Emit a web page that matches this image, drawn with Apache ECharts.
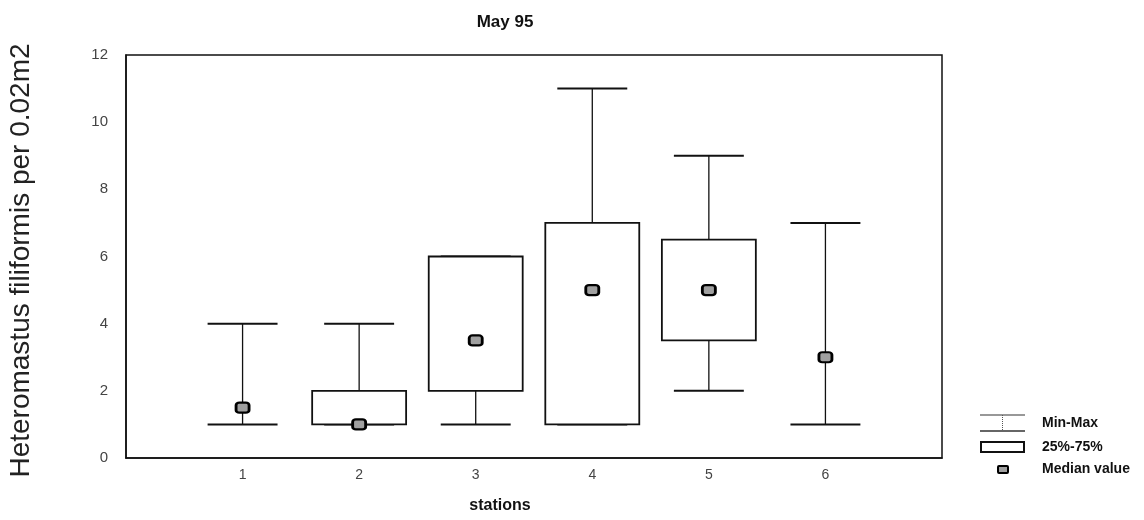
<!DOCTYPE html>
<html>
<head>
<meta charset="utf-8">
<script src="https://cdn.jsdelivr.net/npm/echarts@6/dist/echarts.min.js"></script>
<style>
html,body{margin:0;padding:0;background:#fff;}
#chart{width:1144px;height:520px;}
</style>
</head>
<body>
<div id="chart"></div>
<script>
const stations = [1, 2, 3, 4, 5, 6];
const minVals = [1, 1, 1, 1, 2, 1];
const maxVals = [4, 4, 6, 11, 9, 7];
const q1Vals = [null, 1, 2, 1, 3.5, null];
const q3Vals = [null, 2, 6, 7, 6.5, null];
const medianVals = [1.5, 1, 3.5, 5, 5, 3];
const yTicks = [0, 2, 4, 6, 8, 10, 12];
const titleText = 'May 95';
const xName = 'stations';
const yName = 'Heteromastus filiformis per 0.02m2';
const legendNames = ['Min-Max', '25%-75%', 'Median value'];

const whiskerData = stations.map((s, i) => [s, minVals[i], maxVals[i]]);
const boxData = stations.map((s, i) => [s, q1Vals[i], q3Vals[i]]).filter(d => d[1] !== null && d[2] !== null);
const medianData = stations.map((s, i) => [s, medianVals[i]]);

const chart = echarts.init(document.getElementById('chart'));
const FONT = '"Liberation Sans", Arial, sans-serif';

chart.setOption({
  backgroundColor: '#fff',
  animation: false,
  title: {
    text: titleText,
    left: 500, top: 9, textAlign: 'center',
    textStyle: {fontFamily: FONT, fontSize: 17, fontWeight: 'bold', color: '#111'}
  },
  grid: {left: 126, top: 55, right: 202, bottom: 62, containLabel: false, outerBoundsMode: 'none', show: true, borderColor: '#111', borderWidth: 1.5, backgroundColor: 'transparent'},
  xAxis: {
    type: 'value', min: 0, max: 7, interval: 1,
    name: xName, nameLocation: 'middle', nameGap: 40,
    nameTextStyle: {fontFamily: FONT, fontSize: 16, fontWeight: 'bold', color: '#111', padding: [0, 68, 0, 0]},
    axisLine: {show: true, lineStyle: {color: '#111', width: 1.5}},
    axisTick: {show: false},
    splitLine: {show: false},
    axisLabel: {
      fontFamily: FONT, fontSize: 14, color: '#444', margin: 10,
      formatter: v => stations.indexOf(v) >= 0 ? String(v) : ''
    }
  },
  yAxis: {
    type: 'value', min: yTicks[0], max: yTicks[yTicks.length - 1], interval: 2,
    name: yName, nameLocation: 'middle', nameGap: 91,
    nameTextStyle: {fontFamily: FONT, fontSize: 28, color: '#222', padding: [0, 8, 0, 0]},
    axisLine: {show: true, lineStyle: {color: '#111', width: 1.5}},
    axisTick: {show: false},
    splitLine: {show: false},
    axisLabel: {fontFamily: FONT, fontSize: 15, color: '#444', margin: 18}
  },
  series: [
    {
      name: legendNames[0], type: 'custom', data: whiskerData, z: 2,
      encode: {x: 0, y: [1, 2]},
      renderItem: function (params, api) {
        const x = api.value(0);
        const pMin = api.coord([x, api.value(1)]);
        const pMax = api.coord([x, api.value(2)]);
        const unit = api.size([1, 0])[0];
        const hw = unit * 0.3;
        return {
          type: 'group',
          children: [
            {type: 'line', shape: {x1: pMin[0], y1: pMin[1], x2: pMax[0], y2: pMax[1]}, style: {stroke: '#111', lineWidth: 1.3}},
            {type: 'line', shape: {x1: pMin[0] - hw, y1: pMin[1], x2: pMin[0] + hw, y2: pMin[1]}, style: {stroke: '#111', lineWidth: 2}},
            {type: 'line', shape: {x1: pMax[0] - hw, y1: pMax[1], x2: pMax[0] + hw, y2: pMax[1]}, style: {stroke: '#111', lineWidth: 2}}
          ]
        };
      }
    },
    {
      name: legendNames[1], type: 'custom', data: boxData, z: 3,
      encode: {x: 0, y: [1, 2]},
      renderItem: function (params, api) {
        const x = api.value(0);
        const pLo = api.coord([x, api.value(1)]);
        const pHi = api.coord([x, api.value(2)]);
        const unit = api.size([1, 0])[0];
        const hw = unit * 0.403;
        return {
          type: 'rect',
          shape: {x: pLo[0] - hw, y: pHi[1], width: hw * 2, height: pLo[1] - pHi[1]},
          style: {fill: '#fff', stroke: '#111', lineWidth: 1.8}
        };
      }
    },
    {
      name: legendNames[2], type: 'scatter', data: medianData, z: 4,
      symbol: 'roundRect', symbolSize: [13, 10],
      itemStyle: {color: '#a0a0a0', borderColor: '#000', borderWidth: 2.5, opacity: 1}
    }
  ],
  graphic: [
    {type: 'line', shape: {x1: 980, y1: 415, x2: 1025, y2: 415}, style: {stroke: '#333', lineWidth: 1.2}},
    {type: 'line', shape: {x1: 1002.5, y1: 415, x2: 1002.5, y2: 431}, style: {stroke: '#555', lineWidth: 1, lineDash: [1, 1]}},
    {type: 'line', shape: {x1: 980, y1: 431, x2: 1025, y2: 431}, style: {stroke: '#333', lineWidth: 1.5}},
    {type: 'text', left: 1042, top: 416, style: {text: legendNames[0], font: 'bold 14px ' + FONT, fill: '#111'}},
    {type: 'rect', shape: {x: 981, y: 442, width: 43, height: 10}, style: {fill: '#fff', stroke: '#111', lineWidth: 2}},
    {type: 'text', left: 1042, top: 440, style: {text: legendNames[1], font: 'bold 14px ' + FONT, fill: '#111'}},
    {type: 'rect', shape: {x: 998, y: 466, width: 10, height: 7, r: 1}, style: {fill: '#a0a0a0', stroke: '#000', lineWidth: 2}},
    {type: 'text', left: 1042, top: 462, style: {text: legendNames[2], font: 'bold 14px ' + FONT, fill: '#111'}}
  ]
});
</script>
</body>
</html>
